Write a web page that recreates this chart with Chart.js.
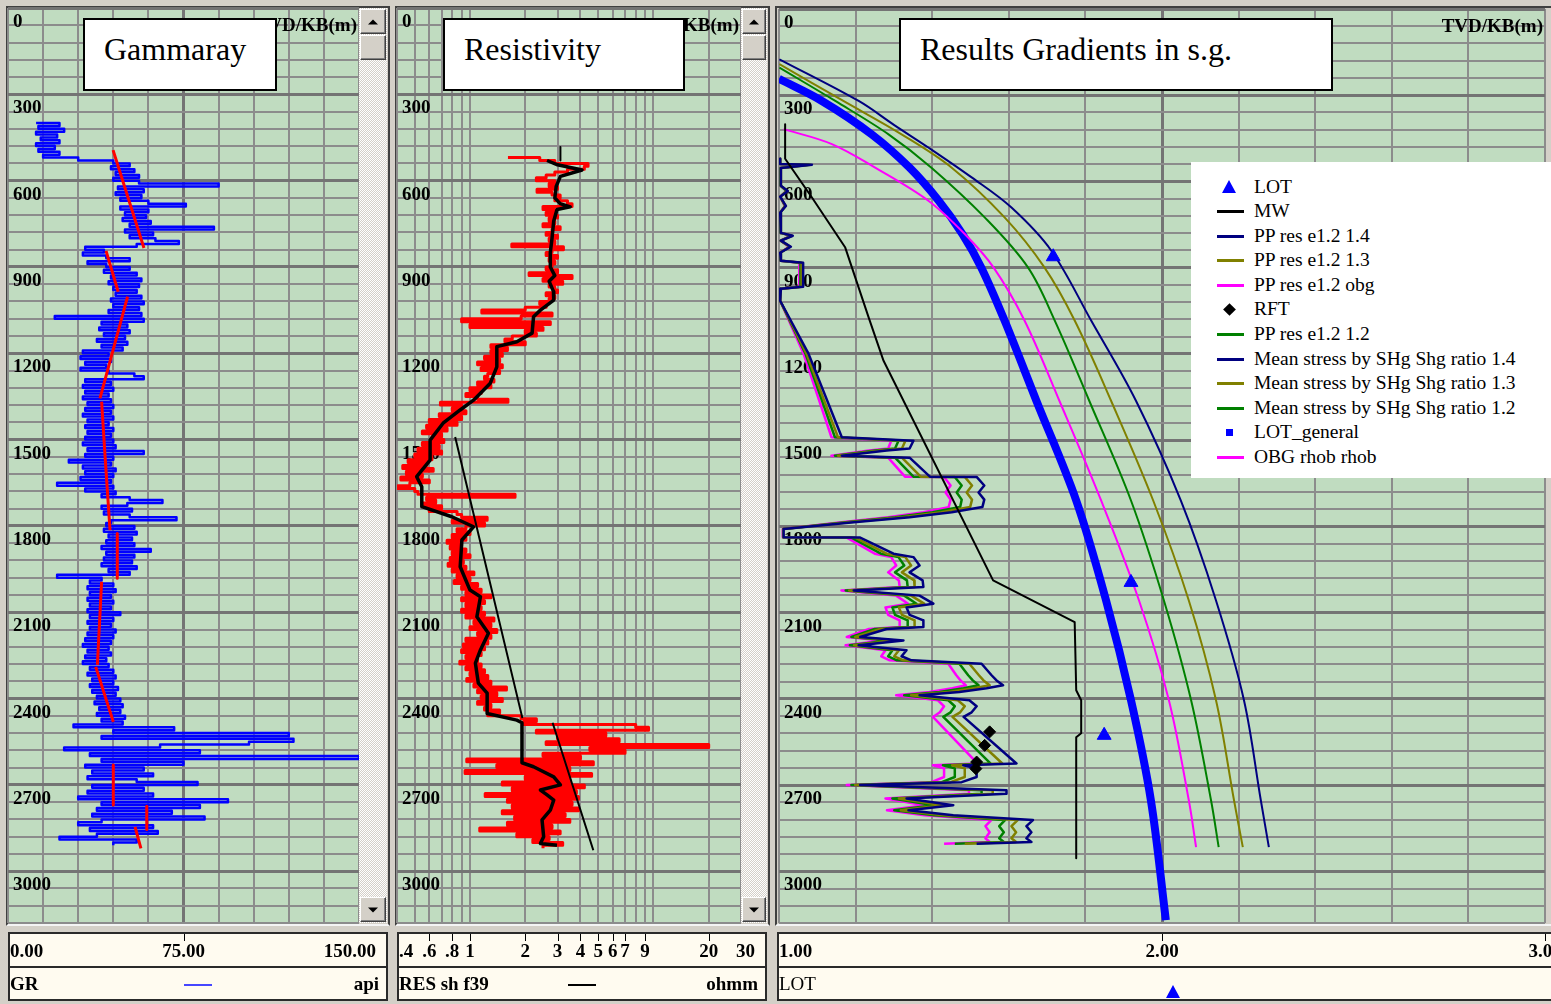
<!DOCTYPE html>
<html>
<head>
<meta charset="utf-8">
<title>Well log – Gammaray, Resistivity, Results Gradients in s.g.</title>
<script src="https://cdn.jsdelivr.net/npm/chart.js@4.4.1/dist/chart.umd.min.js"></script>
<style>
  html, body { margin:0; padding:0; width:1551px; height:1004px; overflow:hidden; background:#d4d0c8; }
  .frame { position:absolute; box-sizing:border-box; border-top:2px solid #404040; border-left:2px solid #404040; border-right:2px solid #404040; border-bottom:2px solid #f4f4f4; }
  canvas { position:absolute; top:0; }
  .title { position:absolute; top:18px; height:73px; box-sizing:border-box; background:#fff; border:2px solid #000;
           padding:13px 0 0 19px; font:32px "Liberation Serif","Times New Roman",serif; line-height:32px; color:#000; white-space:nowrap; }
  .sb { position:absolute; top:8px; height:915px; background:repeating-conic-gradient(#ffffff 0 25%, #d4d0c8 0 50%) 0 0/2px 2px; }
  .sb .btn { position:absolute; left:1px; right:1px; height:25px; background:#d4d0c8; box-sizing:border-box;
             border-top:1px solid #ffffff; border-left:1px solid #ffffff; border-right:1px solid #404040; border-bottom:1px solid #404040;
             box-shadow: inset -1px -1px 0 #808080; }
  .sb .up { top:1px; } .sb .thumb { top:27px; } .sb .down { bottom:1px; }
  .arrow { position:absolute; left:50%; top:50%; width:0; height:0; border-left:5px solid transparent; border-right:5px solid transparent; transform:translate(-50%,-50%); }
  .up .arrow { border-bottom:5px solid #000; }
  .down .arrow { border-top:5px solid #000; }
  #legend { position:absolute; left:1191px; top:162px; width:380px; height:316px; background:#fff;
            font:19.5px "Liberation Serif","Times New Roman",serif; color:#000; }
  #legend .item { position:absolute; left:0; width:100%; height:24px; line-height:24px; white-space:nowrap; }
  #legend .txt { position:absolute; left:63px; top:0; }
  #legend .mk { position:absolute; }
</style>
</head>
<body>

<div class="frame" style="left:6px;top:6px;width:384px;height:920px;"></div>
<div class="frame" style="left:395px;top:6px;width:375px;height:920px;"></div>
<div class="frame" style="left:775px;top:6px;width:800px;height:920px;"></div>

<canvas id="grChart"  width="390" height="1004" style="left:0px"></canvas>
<canvas id="resChart" width="380" height="1004" style="left:390px"></canvas>
<canvas id="sgChart"  width="800" height="1004" style="left:770px"></canvas>

<div class="sb" style="left:359px;width:28px;"><div class="btn up"><div class="arrow"></div></div><div class="btn thumb"></div><div class="btn down"><div class="arrow"></div></div></div>
<div class="sb" style="left:741px;width:26px;"><div class="btn up"><div class="arrow"></div></div><div class="btn thumb"></div><div class="btn down"><div class="arrow"></div></div></div>

<div class="title" style="left:83px;width:194px;">Gammaray</div>
<div class="title" style="left:443px;width:242px;">Resistivity</div>
<div class="title" style="left:899px;width:434px;">Results Gradients in s.g.</div>

<div id="legend"></div>

<script>
// ---------------- depth axis ----------------
const DEPTH_MAX = 3180;
const DEPTH_LABELS = ['0','300','600','900','1200','1500','1800','2100','2400','2700','3000'];
const DEPTH_UNIT = 'TVD/KB(m)';

// ---------------- gamma ray track (api), sampled every 10 m from 400 m ----------------
const GR_TOP = 400, GR_STEP = 10;
const GR_API = [
  12,22,13,24,12,21,14,22,12,20,
  13,22,15,30,45,52,44,54,46,56,
  45,56,90,47,58,46,57,48,60,76,
  48,60,50,59,49,61,52,88,50,62,
  52,63,73,55,33,41,32,42,52,34,
  42,52,41,55,44,57,43,56,45,55,
  46,57,44,58,45,56,43,57,20,58,
  40,51,39,52,41,50,38,51,40,49,
  32,43,31,44,33,42,31,43,54,58,
  33,44,32,45,33,43,32,44,34,45,
  33,44,32,45,34,43,33,45,34,44,
  33,45,32,46,34,58,33,45,26,44,
  32,46,33,45,31,44,21,45,33,46,
  40,52,66,51,40,53,41,52,72,44,
  42,54,41,55,43,53,42,54,40,61,
  42,54,41,53,40,55,43,52,21,40,
  35,45,34,46,35,44,34,45,35,44,
  34,48,35,45,34,44,35,46,34,45,
  33,44,32,43,34,44,33,42,32,43,
  35,45,34,46,36,45,35,47,36,46,
  38,48,37,49,39,48,38,50,40,49,
  28,71,45,120,40,122,103,65,24,82,
  35,150,40,75,33,58,36,62,34,55,
  81,36,58,34,62,30,94,40,82,38,
  70,36,84,40,30,62,35,64,38,22,
  55,45
];
// shale baseline segments (null separates segments)
const GR_TREND_DEPTH = [494,834,null,844,986,null,1003,1357,null,1368,1560,1815,null,1826,1982,null,1994,2283,null,2290,2481,null,2631,2770,null,2774,2855,null,2846,2921];
const GR_TREND_API   = [44.9,58.1,null,41.9,47.1,null,51.1,39.3,null,40,41.5,43.6,null,46.7,46.7,null,40,38.2,null,37.5,45,null,45,45,null,59.3,59.3,null,54.3,56.8];
const GR_TICK_VALUES = [0,75,150];
const GR_TICK_LABELS = ['0.00','75.00','150.00'];

// ---------------- resistivity track (ohmm) ----------------
const RES_TOP = 520, RES_STEP = 10;
const RES_RAW = [
  1.61,2.4,2.9,4.4,4.2,3.4,2.9,2.6,2.3,2.9,
  2.7,3.0,2.32,2.8,3.1,2.9,3.4,3.6,2.5,2.9,
  2.6,3.0,2.7,2.9,2.5,3.1,2.8,2.6,3.0,2.7,
  2.9,1.69,3.23,2.8,2.6,3.0,2.7,2.9,2.8,2.6,
  3.0,2.1,3.6,2.5,3.2,2.7,2.9,3.0,2.6,2.9,
  2.7,2.4,2.6,2.0,1.16,2.8,1.9,0.90,2.74,1.0,
  2.5,2.0,2.3,1.7,1.55,2.0,1.3,1.6,1.3,1.5,
  1.2,1.45,1.1,1.5,1.15,1.45,1.25,1.2,1.35,1.1,
  1.3,1.0,1.15,0.95,1.1,1.61,0.69,0.9,0.8,0.95,
  0.68,0.9,0.6,0.85,0.58,0.75,0.55,0.7,0.62,0.72,
  0.55,0.68,0.52,0.7,0.5,0.62,0.46,0.58,0.43,0.63,
  0.45,0.55,0.42,0.6,0.47,0.405,0.5,0.52,1.76,0.58,
  0.65,0.55,0.7,0.6,0.85,0.9,1.24,0.8,1.2,0.95,
  0.85,1.0,0.8,0.95,0.75,0.9,0.78,0.95,0.8,1.0,
  0.78,0.92,0.76,0.95,0.8,1.05,0.85,1.0,0.82,1.1,
  0.9,1.15,0.95,1.3,0.9,1.2,0.95,1.15,0.9,1.2,
  0.95,1.35,1.05,1.3,1.0,1.4,1.1,1.3,0.95,1.25,
  0.92,1.2,0.9,1.15,0.95,1.1,0.88,1.15,0.95,1.2,
  1.0,1.25,0.96,1.3,1.05,1.58,1.1,1.4,1.15,1.5,
  1.1,1.3,1.2,1.45,1.25,1.9,2.3,1.96,8.0,9.4,
  2.3,5.5,3.0,6.5,2.6,20,4.5,7.0,2.5,4.0,
  0.96,4.7,1.4,3.5,0.94,4.6,2.0,3.5,1.5,4.2,
  1.7,3.8,1.21,3.9,1.6,3.6,1.7,3.9,1.5,3.3,
  1.75,3.5,1.6,2.8,1.13,3.1,1.8,2.7,2.2,3.2,
  2.5
];
// smoothed shale resistivity (RES sh f39)
const RES_SH_DEPTH = [530,545,563,585,620,660,680,691,700,740,800,850,900,930,950,985,1015,1050,1073,1130,1160,1177,1247,1304,1363,1397,1443,1502,1571,1629,1664,1733,1768,1803,1849,1942,2023,2046,2116,2173,2231,2277,2346,2381,2452,2475,2484,2623,2637,2672,2700,2718,2735,2753,2788,2822,2880,2904,2910];
const RES_SH = [2.63,3.0,4.08,3.11,2.95,2.9,3.1,3.52,2.98,2.86,2.8,2.74,2.74,2.9,2.7,2.85,2.86,2.42,2.22,2.18,1.8,1.40,1.40,1.29,1.045,0.884,0.713,0.606,0.606,0.512,0.546,0.546,0.796,1.045,0.903,0.884,1.0,1.14,1.09,1.26,1.14,1.07,1.11,1.24,1.24,1.80,1.92,1.92,2.22,2.86,3.11,2.42,2.63,2.86,2.74,2.47,2.52,2.42,2.98];
// normal compaction trend lines
const RES_TREND_DEPTH = [483,530,null,1491,2468,null,2484,2927];
const RES_TREND       = [3.11,3.11,null,0.83,1.93,null,2.82,4.7];
const RES_TICK_VALUES = [0.4,0.6,0.8,1,2,3,4,5,6,7,9,20,30];
const RES_TICK_LABELS = ['.4','.6','.8','1','2','3','4','5','6','7','9','20','30'];

// ---------------- gradient track (s.g.) ----------------
const LOT_DEPTH = [862,1995,2527];
const LOT_SG    = [1.716,1.919,1.849];
const RFT_DEPTH = [2515,2562,2620,2643];
const RFT_SG    = [1.550,1.537,1.516,1.514];
const MW_DEPTH  = [401,521,656,830,1073,1224,1988,2133,2370,2405,2520,2534,2955];
const MW_SG     = [1.016,1.016,1.086,1.173,1.234,1.273,1.559,1.772,1.776,1.789,1.789,1.776,1.776];

const PP_DEPTH = [521,539,542,553,615,633,653,685,709,779,789,806,827,848,876,883,966,973,1015,1199,1490,1502,1529,1536,1554,1561,1627,1628,1658,1682,1707,1733,1751,1768,1786,1809,1838,1839,1895,1907,1936,1960,1988,2011,2023,2041,2069,2082,2108,2127,2150,2157,2185,2197,2214,2231,2252,2266,2278,2318,2336,2353,2363,2376,2388,2405,2426,2447,2463,2625,2631,2642,2672,2690,2700,2718,2730,2747,2770,2788,2805,2822,2843,2864,2885,2898,2904];
const PP_R14 = [1.003,1.003,1.086,1.005,1.005,1.023,1.003,1.018,1.003,1.005,1.036,1.005,1.031,1.003,1.005,1.063,1.063,1.005,1.003,1.077,1.164,1.351,1.341,1.281,1.164,1.341,1.394,1.516,1.536,1.521,1.536,1.531,1.451,1.341,1.195,1.012,1.012,1.212,1.299,1.351,1.367,1.341,1.375,1.377,1.195,1.367,1.403,1.333,1.341,1.377,1.377,1.281,1.212,1.325,1.208,1.333,1.320,1.346,1.529,1.555,1.568,1.585,1.542,1.471,1.367,1.497,1.516,1.503,1.482,1.620,1.481,1.516,1.516,1.477,1.212,1.594,1.594,1.333,1.455,1.338,1.455,1.663,1.646,1.659,1.646,1.659,1.516];
const PP_R13 = [1.003,1.003,1.081,1.005,1.005,1.022,1.003,1.017,1.003,1.005,1.034,1.005,1.029,1.003,1.005,1.059,1.059,1.005,1.003,1.072,1.154,1.330,1.321,1.264,1.154,1.321,1.370,1.485,1.504,1.490,1.504,1.499,1.424,1.321,1.183,1.011,1.011,1.199,1.281,1.330,1.345,1.321,1.353,1.354,1.183,1.345,1.379,1.313,1.321,1.354,1.354,1.264,1.199,1.306,1.196,1.313,1.301,1.325,1.497,1.522,1.534,1.550,1.509,1.443,1.345,1.467,1.485,1.473,1.453,1.583,1.452,1.485,1.485,1.448,1.199,1.558,1.558,1.313,1.428,1.318,1.428,1.623,1.607,1.619,1.607,1.619,1.485];
const PP_R12 = [1.003,1.003,1.077,1.004,1.004,1.020,1.003,1.016,1.003,1.004,1.032,1.004,1.028,1.003,1.004,1.056,1.056,1.004,1.003,1.069,1.146,1.312,1.303,1.250,1.146,1.303,1.351,1.459,1.477,1.464,1.477,1.473,1.401,1.303,1.174,1.011,1.011,1.189,1.266,1.312,1.327,1.303,1.334,1.336,1.174,1.327,1.359,1.296,1.303,1.336,1.336,1.250,1.189,1.289,1.185,1.296,1.285,1.308,1.471,1.494,1.506,1.521,1.482,1.419,1.327,1.442,1.459,1.448,1.429,1.552,1.428,1.459,1.459,1.425,1.189,1.529,1.529,1.296,1.405,1.301,1.405,1.590,1.575,1.587,1.575,1.587,1.459];
const PP_OBG = [1.003,1.003,1.072,1.004,1.004,1.019,1.003,1.015,1.003,1.004,1.030,1.004,1.026,1.003,1.004,1.053,1.053,1.004,1.003,1.064,1.137,1.293,1.285,1.235,1.137,1.285,1.329,1.431,1.448,1.435,1.448,1.443,1.377,1.285,1.163,1.010,1.010,1.177,1.250,1.293,1.306,1.285,1.313,1.315,1.163,1.306,1.337,1.278,1.285,1.315,1.315,1.235,1.177,1.271,1.174,1.278,1.267,1.289,1.442,1.463,1.474,1.488,1.453,1.393,1.306,1.415,1.431,1.420,1.402,1.518,1.402,1.431,1.431,1.398,1.177,1.496,1.496,1.278,1.380,1.282,1.380,1.554,1.539,1.550,1.539,1.550,1.431];

const MS14_DEPTH = [175,320,403,482,586,691,841,1084,1363,1710,2058,2405,2753,2916];
const MS14_SG    = [1.001,1.208,1.300,1.390,1.503,1.607,1.711,1.815,1.932,2.049,2.141,2.214,2.258,2.279];
const MS13_DEPTH = [192,320,436,552,725,899,1084,1363,1710,2058,2405,2753,2916];
const MS13_SG    = [1.001,1.168,1.320,1.451,1.589,1.693,1.772,1.867,1.977,2.070,2.141,2.188,2.211];
const MS12_DEPTH = [204,320,436,552,725,899,1084,1363,1710,2058,2405,2753,2916];
const MS12_SG    = [1.001,1.147,1.286,1.398,1.537,1.650,1.720,1.810,1.919,2.005,2.076,2.128,2.148];
const OBG_DEPTH  = [418,470,552,667,783,899,1084,1363,1710,2058,2405,2753,2916];
const OBG_SG     = [1.012,1.138,1.251,1.390,1.485,1.560,1.641,1.732,1.841,1.940,2.018,2.070,2.089];
const LOTG_DEPTH = [243,320,436,552,667,783,899,1084,1363,1710,2058,2405,2753,3170];
const LOTG_SG    = [1.000,1.112,1.242,1.341,1.417,1.479,1.528,1.589,1.672,1.776,1.854,1.919,1.971,2.010];
const SG_TICK_VALUES = [1,2,3];
const SG_TICK_LABELS = ['1.00','2.00','3.00'];

// ---------------- helpers ----------------
const SERIF = '"Liberation Serif","Times New Roman",serif';
const pts = (depths, vals) => vals.map((v, i) => ({ x: v, y: depths[i] }));
const sampled = (top, step, vals) => vals.map((v, i) => ({ x: v, y: top + i * step }));

function gridTicks(list) { return list.map(v => ({ value: v })); }
function evenGrid(from, to, step) {
  const out = [];
  for (let k = 0; from + k * step <= to + 1e-9; k++) out.push(+(from + k * step).toFixed(4));
  return out;
}

function depthScale() {
  return {
    type: 'linear', reverse: true, min: 0, max: DEPTH_MAX,
    ticks: { display: false }, border: { display: false },
    afterBuildTicks: s => { s.ticks = gridTicks(evenGrid(0, DEPTH_MAX, 60)); },
    grid: {
      drawTicks: false,
      color: c => (c.tick && c.tick.value % 300 === 0) ? '#747474' : '#8c8c8c',
      lineWidth: c => (c.tick && c.tick.value % 300 === 0) ? 3 : 2
    }
  };
}

function drawStrip(chart, s) {
  const ctx = chart.ctx, xs = chart.scales.x;
  const T = 932, M = 966, B = 999, L = s.left, R = s.right;
  ctx.save();
  ctx.fillStyle = '#fffbf0';
  ctx.fillRect(L, T, R - L, B - T);
  ctx.fillStyle = '#2a2a2a';
  ctx.fillRect(L, T, R - L, 2);
  ctx.fillRect(L, M, R - L, 2);
  ctx.fillRect(L, B, R - L, 2);
  ctx.fillRect(L, T, 2, B - T + 2);
  ctx.fillRect(R - 2, T, 2, B - T + 2);

  ctx.fillStyle = '#000';
  ctx.font = 'bold 19px ' + SERIF;
  ctx.textBaseline = 'middle';
  const n = s.values.length;
  s.values.forEach((v, i) => {
    const px = xs.getPixelForValue(v);
    let align = 'center', tx = px;
    if (i === 0) { align = 'left'; tx = L + 2; }
    else if (i === n - 1 && s.lastAlign === 'right') { align = 'right'; tx = R - 12; }
    else { ctx.fillRect(Math.round(px), T + 2, 1, 7); }
    ctx.textAlign = align;
    ctx.fillText(s.labels[i], tx, 952);
  });

  // curve name, sample and unit
  ctx.font = (s.nameBold ? 'bold ' : '') + '19px ' + SERIF;
  ctx.textAlign = 'left';
  ctx.fillText(s.name, L + 2, 985);
  if (s.unit) { ctx.textAlign = 'right'; ctx.fillText(s.unit, R - 9, 985); }
  const cx = (L + R) / 2;
  ctx.fillStyle = s.markerColor;
  if (s.marker === 'line') {
    ctx.fillRect(Math.round(cx - 14), 984, 28, 2);
  } else {
    ctx.beginPath();
    ctx.moveTo(cx, 985); ctx.lineTo(cx + 7, 998); ctx.lineTo(cx - 7, 998); ctx.closePath();
    ctx.fill();
  }
  ctx.restore();
}

const trackPlugin = {
  id: 'track',
  beforeDraw(chart) {
    const { ctx, chartArea: a } = chart;
    ctx.save();
    ctx.fillStyle = '#c0dcc0';
    ctx.fillRect(a.left, a.top, a.right - a.left, a.bottom - a.top);
    ctx.restore();
  },
  beforeDatasetsDraw(chart) {
    const { ctx, chartArea: a } = chart;
    const y = chart.scales.y;
    ctx.save();
    ctx.fillStyle = '#000';
    ctx.font = 'bold 19px ' + SERIF;
    ctx.textBaseline = 'alphabetic';
    ctx.textAlign = 'left';
    DEPTH_LABELS.forEach(t => ctx.fillText(t, a.left + 5, y.getPixelForValue(+t) + 19));
    ctx.textAlign = 'right';
    ctx.fillText(DEPTH_UNIT, a.right - 2, a.top + 23);
    ctx.restore();
  },
  afterDraw(chart, args, opts) { drawStrip(chart, opts.strip); }
};

function baseOptions(xScale, padLeft, padRight, strip) {
  return {
    responsive: false, animation: false, events: [],
    layout: { padding: { left: padLeft, top: 8, right: padRight, bottom: 81 } },
    scales: { x: xScale, y: depthScale() },
    elements: { point: { radius: 0 }, line: { tension: 0, borderJoinStyle: 'round' } },
    plugins: { legend: { display: false }, tooltip: { enabled: false }, track: { strip } }
  };
}

// ---------------- Gammaray ----------------
const grX = {
  type: 'linear', min: 0, max: 150,
  ticks: { display: false }, border: { display: false },
  afterBuildTicks: s => { s.ticks = gridTicks(evenGrid(0, 150, 15)); },
  grid: { drawTicks: false, color: c => (c.tick && c.tick.value === 75) ? '#747474' : '#8c8c8c',
          lineWidth: c => (c.tick && c.tick.value === 75) ? 3 : 2 }
};
new Chart(document.getElementById('grChart'), {
  type: 'line',
  data: { datasets: [
    { label: 'GR trend', data: pts(GR_TREND_DEPTH, GR_TREND_API), borderColor: '#ff0000', borderWidth: 3, spanGaps: false },
    { label: 'GR', data: sampled(GR_TOP, GR_STEP, GR_API), borderColor: '#0000ff', borderWidth: 2.5, stepped: true }
  ]},
  options: baseOptions(grX, 8, 31, {
    left: 8, right: 388, values: GR_TICK_VALUES, labels: GR_TICK_LABELS, lastAlign: 'right',
    name: 'GR', unit: 'api', nameBold: true, marker: 'line', markerColor: '#4646ff'
  }),
  plugins: [trackPlugin]
});

// ---------------- Resistivity ----------------
const RES_GRID = [0.4,0.5,0.6,0.7,0.8,0.9,1,2,3,4,5,6,7,8,9,10,20,30];
const resX = {
  type: 'logarithmic', min: 0.4, max: 30,
  ticks: { display: false }, border: { display: false },
  afterBuildTicks: s => { s.ticks = gridTicks(RES_GRID); },
  grid: { drawTicks: false, color: '#8c8c8c', lineWidth: 2 }
};
new Chart(document.getElementById('resChart'), {
  type: 'line',
  data: { datasets: [
    { label: 'trend', data: pts(RES_TREND_DEPTH, RES_TREND), borderColor: '#000000', borderWidth: 2, spanGaps: false },
    { label: 'RES sh f39', data: pts(RES_SH_DEPTH, RES_SH), borderColor: '#000000', borderWidth: 3.5 },
    { label: 'RES', data: sampled(RES_TOP, RES_STEP, RES_RAW), borderColor: '#ff0000', borderWidth: 3, stepped: true }
  ]},
  options: baseOptions(resX, 7, 29, {
    left: 7, right: 377, values: RES_TICK_VALUES, labels: RES_TICK_LABELS, lastAlign: 'right',
    name: 'RES sh f39', unit: 'ohmm', nameBold: true, marker: 'line', markerColor: '#000000'
  }),
  plugins: [trackPlugin]
});

// ---------------- Results Gradients ----------------
const sgX = {
  type: 'linear', min: 1, max: 3,
  ticks: { display: false }, border: { display: false },
  afterBuildTicks: s => { s.ticks = gridTicks(evenGrid(1, 3, 0.2)); },
  grid: { drawTicks: false, color: c => (c.tick && Math.abs(c.tick.value - 2) < 1e-6) ? '#747474' : '#8c8c8c',
          lineWidth: c => (c.tick && Math.abs(c.tick.value - 2) < 1e-6) ? 3 : 2 }
};
const sgChart = new Chart(document.getElementById('sgChart'), {
  type: 'line',
  data: { datasets: [
    { label: 'LOT', data: pts(LOT_DEPTH, LOT_SG), showLine: false, pointStyle: 'triangle', pointRadius: 8,
      backgroundColor: '#0000ff', borderColor: '#0000ff', borderWidth: 1, order: 0, legendMarker: 'triangle' },
    { label: 'MW', data: pts(MW_DEPTH, MW_SG), borderColor: '#000000', borderWidth: 2, order: 2, legendMarker: 'line' },
    { label: 'PP res e1.2 1.4', data: pts(PP_DEPTH, PP_R14), borderColor: '#000080', borderWidth: 2.5, order: 3, legendMarker: 'line' },
    { label: 'PP res e1.2 1.3', data: pts(PP_DEPTH, PP_R13), borderColor: '#808000', borderWidth: 2.5, order: 4, legendMarker: 'line' },
    { label: 'PP res e1.2 obg', data: pts(PP_DEPTH, PP_OBG), borderColor: '#ff00ff', borderWidth: 2.5, order: 6, legendMarker: 'line' },
    { label: 'RFT', data: pts(RFT_DEPTH, RFT_SG), showLine: false, pointStyle: 'rectRot', pointRadius: 6,
      backgroundColor: '#000000', borderColor: '#000000', borderWidth: 1, order: 1, legendMarker: 'diamond' },
    { label: 'PP res e1.2 1.2', data: pts(PP_DEPTH, PP_R12), borderColor: '#008000', borderWidth: 2.5, order: 5, legendMarker: 'line' },
    { label: 'Mean stress by SHg Shg ratio 1.4', data: pts(MS14_DEPTH, MS14_SG), borderColor: '#000080', borderWidth: 2, tension: 0.35, order: 7, legendMarker: 'line' },
    { label: 'Mean stress by SHg Shg ratio 1.3', data: pts(MS13_DEPTH, MS13_SG), borderColor: '#808000', borderWidth: 2, tension: 0.35, order: 8, legendMarker: 'line' },
    { label: 'Mean stress by SHg Shg ratio 1.2', data: pts(MS12_DEPTH, MS12_SG), borderColor: '#008000', borderWidth: 2, tension: 0.35, order: 9, legendMarker: 'line' },
    { label: 'LOT_general', data: pts(LOTG_DEPTH, LOTG_SG), borderColor: '#0000ff', borderWidth: 8, tension: 0.35, order: 11, legendMarker: 'square' },
    { label: 'OBG rhob rhob', data: pts(OBG_DEPTH, OBG_SG), borderColor: '#ff00ff', borderWidth: 2, tension: 0.35, order: 10, legendMarker: 'line' }
  ]},
  options: baseOptions(sgX, 7, 25, {
    left: 7, right: 799, values: SG_TICK_VALUES, labels: SG_TICK_LABELS, lastAlign: 'center',
    name: 'LOT', unit: '', nameBold: false, marker: 'triangle', markerColor: '#0000ff'
  }),
  plugins: [trackPlugin]
});

// legend box built from the gradient datasets
(function buildLegend(chart) {
  const box = document.getElementById('legend');
  chart.data.datasets.forEach((ds, i) => {
    const row = document.createElement('div');
    row.className = 'item';
    row.style.top = (12.7 + i * 24.55) + 'px';
    const mk = document.createElement('div');
    mk.className = 'mk';
    const col = ds.borderColor;
    if (ds.legendMarker === 'line') {
      Object.assign(mk.style, { left: '26px', top: '11px', width: '27px', height: '3px', background: col });
    } else if (ds.legendMarker === 'triangle') {
      Object.assign(mk.style, { left: '31px', top: '5px', width: 0, height: 0,
        borderLeft: '7px solid transparent', borderRight: '7px solid transparent', borderBottom: '13px solid ' + col });
    } else if (ds.legendMarker === 'diamond') {
      Object.assign(mk.style, { left: '34px', top: '8px', width: '9px', height: '9px', background: col, transform: 'rotate(45deg)' });
    } else {
      Object.assign(mk.style, { left: '35px', top: '9px', width: '7px', height: '7px', background: col });
    }
    const txt = document.createElement('span');
    txt.className = 'txt';
    txt.textContent = ds.label;
    row.appendChild(mk);
    row.appendChild(txt);
    box.appendChild(row);
  });
})(sgChart);
</script>
</body>
</html>
